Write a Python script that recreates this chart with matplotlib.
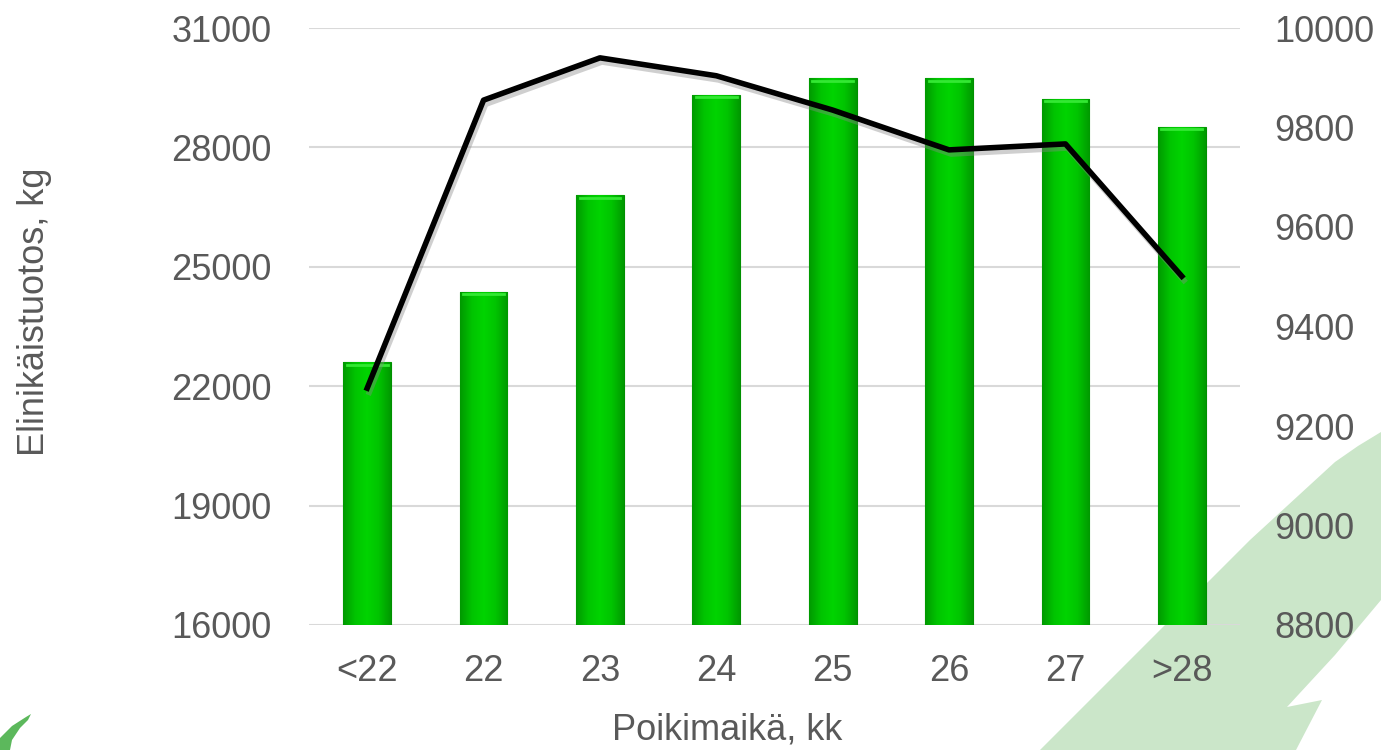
import numpy as np
import matplotlib.pyplot as plt
import matplotlib.patheffects as pe
from matplotlib.patches import Polygon
from matplotlib.colors import LinearSegmentedColormap

# === Data ===
categories = ['<22', '22', '23', '24', '25', '26', '27', '>28']
lifetime_yield = [22600, 24370, 26800, 29320, 29740, 29740, 29220, 28510]   # left axis, bars
annual_yield = [9276, 9855, 9940, 9904, 9835, 9755, 9767, 9501]             # right axis, line

left_ticks = [16000, 19000, 22000, 25000, 28000, 31000]
right_ticks = [8800, 9000, 9200, 9400, 9600, 9800, 10000]

plt.rcParams['font.family'] = ['Liberation Sans', 'DejaVu Sans']
grey = '#595959'
fs = 26

fig = plt.figure(figsize=(13.81, 7.5), dpi=100)
W, H = 1381, 750

# === Background decoration (figure pixel coords) ===
leaf = [(1040, 750), (1150, 640), (1250, 540), (1335, 462), (1358, 446), (1381, 432),
        (1381, 600), (1335, 655), (1287, 707), (1322, 700), (1296, 750)]
fig.patches.append(Polygon([(x / W, 1 - y / H) for x, y in leaf], closed=True,
                           transform=fig.transFigure, facecolor='#cbe6c9', edgecolor='none', zorder=-5))
logo = [(0, 750), (0, 738), (12, 726), (26, 717), (31, 714), (28, 720), (20, 728), (12, 740), (10, 750)]
fig.patches.append(Polygon([(x / W, 1 - y / H) for x, y in logo], closed=True,
                           transform=fig.transFigure, facecolor='#5cb85c', edgecolor='none', zorder=-5))

ax = fig.add_axes([309 / W, 1 - 625 / H, (1240 - 309) / W, (625 - 28) / H])
ax.patch.set_alpha(0)
ax.set_zorder(1)
x = np.arange(len(categories))

# === Bars with horizontal gradient ===
bars = ax.bar(x, lifetime_yield, width=0.41, color='#00b800', edgecolor='#009000', linewidth=0.8, zorder=2)
cmap = LinearSegmentedColormap.from_list('g', ['#009a00', '#00c400', '#00d400', '#00c400', '#009a00'])
grad = np.linspace(0, 1, 64).reshape(1, -1)
for b in bars:
    x0, w, h = b.get_x(), b.get_width(), b.get_height()
    im = ax.imshow(grad, cmap=cmap, extent=[x0, x0 + w, 16000, h], aspect='auto', zorder=2.1)
    im.set_clip_path(b)
    ax.plot([x0 + 0.03, x0 + w - 0.03], [h - 60, h - 60], color='#33e833', lw=2, zorder=2.2)

ax.set_ylim(16000, 31000)
ax.set_xlim(-0.5, len(categories) - 0.5)
ax.set_yticks(left_ticks)
ax.set_xticks(x)
ax.set_xticklabels(categories)
ax.grid(axis='y', color='#d9d9d9', linewidth=1.5, zorder=0)
ax.set_axisbelow(True)
for s in ax.spines.values():
    s.set_visible(False)
ax.tick_params(axis='both', length=0, labelsize=fs, colors=grey)
ax.tick_params(axis='y', pad=27)
ax.tick_params(axis='x', pad=21)
ax.set_ylabel('Elinikäistuotos, kg', fontsize=fs, color=grey)
ax.yaxis.set_label_coords(-(309 - 52) / 931, (625 - 312) / 597)
ax.set_xlabel('Poikimaikä, kk', fontsize=fs, color=grey)
ax.xaxis.set_label_coords((727 - 309) / 931, -(713 - 625) / 597)

# === Line on secondary axis ===
ax2 = ax.twinx()
ax2.set_zorder(2)
ax2.patch.set_visible(False)
ax2.plot(x, annual_yield, color='black', linewidth=4, zorder=3,
         path_effects=[pe.SimpleLineShadow(offset=(1.5, -3), shadow_color='#888888', alpha=0.4),
                       pe.Normal()])
ax2.set_ylim(8800, 10000)
ax2.set_yticks(right_ticks)
for s in ax2.spines.values():
    s.set_visible(False)
ax2.tick_params(axis='y', length=0, labelsize=fs, colors=grey, pad=25)

plt.savefig('out.png', dpi=100)
